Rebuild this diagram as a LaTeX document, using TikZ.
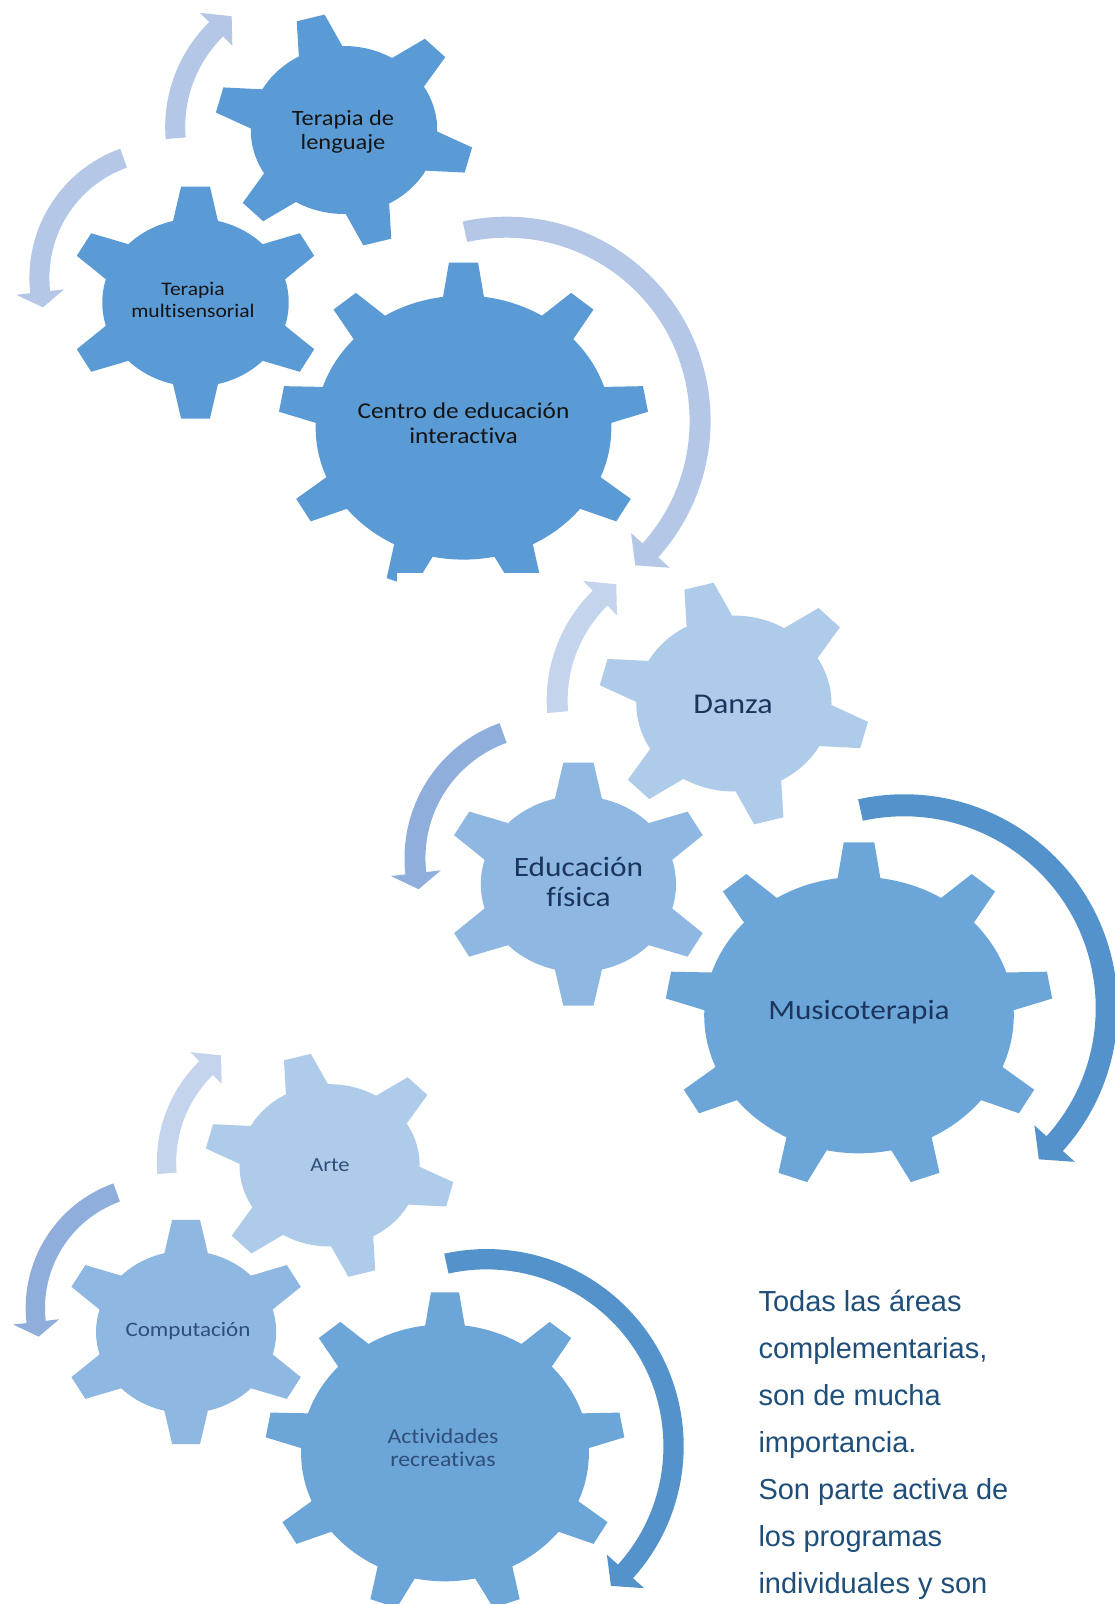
\documentclass[tikz,border=0pt]{standalone}
\usepackage{fontspec}
\usepackage{graphicx}
\setmainfont{Carlito}[Ligatures=NoCommon]
\newfontfamily\arialf{Liberation Sans}

\definecolor{gA}{HTML}{5B9BD5}
\definecolor{arL}{HTML}{B4C7E7}
\definecolor{gLight}{HTML}{AECBEA}
\definecolor{gMid}{HTML}{8EB8E1}
\definecolor{gDark}{HTML}{6CA5D8}
\definecolor{aLight}{HTML}{C3D4EC}
\definecolor{aMid}{HTML}{8FAEDB}
\definecolor{aDark}{HTML}{5492CC}
\definecolor{txtA}{HTML}{141414}
\definecolor{txtB}{HTML}{1B355C}
\definecolor{txtC}{HTML}{2F4E78}
\definecolor{ptxt}{HTML}{1F4E79}

% gear: #1 fill, #2 teeth, #3 tip radius, #4 body radius, #5 rotation, #6 tooth half width at base
\newcommand{\gearshape}[6]{%
  \fill[#1] (0,0) circle[radius=#4];
  \foreach \gi in {1,...,#2}{
    \fill[#1, rotate={#5+360*\gi/#2}] (-13,-#3) -- (13,-#3) -- (#6,{-(#4-6)}) -- (-#6,{-(#4-6)}) -- cycle;
  }}
% circular arrow: #1 fill, #2 mid radius, #3 half band, #4 half head, #5 start, #6 head base, #7 tip (TikZ angles)
\newcommand{\carrow}[7]{%
  \fill[#1] (#5:{#2+#3}) arc[start angle=#5, end angle=#6, radius={#2+#3}]
    -- (#6:{#2+#4}) -- (#7:#2) -- (#6:{#2-#4}) -- (#6:{#2-#3})
    arc[start angle=#6, end angle=#5, radius={#2-#3}] -- cycle;}
\newcommand{\sx}[1]{\scalebox{1.12}[1]{\begin{tabular}{@{}c@{}}#1\end{tabular}}}

\tikzset{
  lbl/.style={inner sep=0pt, align=center},
  ptext/.style={inner sep=0pt, anchor=base west, text=ptxt,
    font=\arialf\fontsize{29}{35}\selectfont}
}

\begin{document}
\begin{tikzpicture}[x=1pt,y=-1pt]
\useasboundingbox (0,0) rectangle (1114,1604);
\fill[white] (0,0) rectangle (1114,1604);

% ---------------- group 1 ----------------
\begin{scope}[shift={(463.5,427.6)}]
  \begin{scope}[xscale=1.12] \gearshape{gA}{9}{165}{132}{0}{19} \end{scope}
  \begin{scope}[shift={(-119.5,-297.6)}, xscale=1.11] \gearshape{gA}{6}{116}{84}{15}{21} \end{scope}
  \begin{scope}[shift={(-268,-125.1)}, xscale=1.11] \gearshape{gA}{6}{116}{84}{0}{21} \end{scope}
  \begin{scope}[shift={(-151.3,-300.6)}] \carrow{arL}{137}{10}{23}{-184.7}{-134.5}{-126} \end{scope}
  \begin{scope}[shift={(-297.1,-149.9)}] \carrow{arL}{127}{10}{24}{-109.7}{-186.5}{-193.5} \end{scope}
  \begin{scope}[shift={(43,-6.8)}] \carrow{arL}{193.6}{10.5}{26}{-102.4}{42}{48.3} \end{scope}
\end{scope}

% white background of the second picture
\fill[white] (397,573) rectangle (1114,1045);

% ---------------- group 2 ----------------
\begin{scope}[shift={(859,1015.1)}, scale=1.047]
  \begin{scope}[xscale=1.12] \gearshape{gDark}{9}{165}{132}{0}{19} \end{scope}
  \begin{scope}[shift={(-119.5,-297.6)}, xscale=1.11] \gearshape{gLight}{6}{116}{84}{15}{21} \end{scope}
  \begin{scope}[shift={(-268,-125.1)}, xscale=1.11] \gearshape{gMid}{6}{116}{84}{0}{21} \end{scope}
  \begin{scope}[shift={(-151.3,-300.6)}] \carrow{aLight}{137}{10}{23}{-184.7}{-134.5}{-126} \end{scope}
  \begin{scope}[shift={(-297.1,-149.9)}] \carrow{aMid}{127}{10}{24}{-109.7}{-186.5}{-193.5} \end{scope}
  \begin{scope}[shift={(43,-6.8)}] \carrow{aDark}{193.6}{10.5}{26}{-102.4}{42}{48.3} \end{scope}
\end{scope}

% ---------------- group 3 ----------------
\begin{scope}[shift={(445,1452.8)}, scale=0.966]
  \begin{scope}[xscale=1.12] \gearshape{gDark}{9}{166}{133}{0}{19} \end{scope}
  \begin{scope}[shift={(-119.5,-297.6)}, xscale=1.11] \gearshape{gLight}{6}{116}{84}{15}{21} \end{scope}
  \begin{scope}[shift={(-268,-125.1)}, xscale=1.11] \gearshape{gMid}{6}{116}{84}{0}{21} \end{scope}
  \begin{scope}[shift={(-151.3,-300.6)}] \carrow{aLight}{137}{10}{23}{-184.7}{-134.5}{-126} \end{scope}
  \begin{scope}[shift={(-297.1,-149.9)}] \carrow{aMid}{127}{10}{24}{-109.7}{-186.5}{-193.5} \end{scope}
  \begin{scope}[shift={(43,-6.8)}] \carrow{aDark}{193.6}{10.5}{26}{-102.4}{42}{48.3} \end{scope}
\end{scope}

% ---------------- labels ----------------
\node[lbl, text=txtA, font=\fontsize{21.8}{24}\selectfont] (lenguaje) at (343,133) {\sx{Terapia de\\lenguaje}};
\node[lbl, text=txtA, font=\fontsize{19.2}{22.7}\selectfont] (multi) at (193,302) {\sx{Terapia\\multisensorial}};
\node[lbl, text=txtA, font=\fontsize{22.6}{24.3}\selectfont] (centro) at (463.5,426) {\sx{Centro de educación\\interactiva}};

\node[lbl, text=txtB, font=\fontsize{28.6}{30}\selectfont] (danza) at (733,707) {\sx{Danza}};
\node[lbl, text=txtB, font=\fontsize{28}{30}\selectfont] (edfis) at (578.5,885) {\sx{Educación\\física}};
\node[lbl, text=txtB, font=\fontsize{27.9}{30}\selectfont] (musico) at (859,1013) {\sx{Musicoterapia}};

\node[lbl, text=txtC, font=\fontsize{20}{23}\selectfont] (arte) at (330,1167) {\sx{Arte}};
\node[lbl, text=txtC, font=\fontsize{20.6}{23}\selectfont] (compu) at (188,1332) {\sx{Computación}};
\node[lbl, text=txtC, font=\fontsize{21.2}{23.3}\selectfont] (activ) at (443,1450) {\sx{Actividades\\recreativas}};

% ---------------- paragraph ----------------
\node[ptext] (p1) at (758.3,1311.7) {Todas las áreas};
\node[ptext] (p2) at (758.3,1358.6) {complementarias,};
\node[ptext] (p3) at (758.3,1405.6) {son de mucha};
\node[ptext] (p4) at (758.3,1452.5) {importancia.};
\node[ptext] (p5) at (758.3,1499.5) {Son parte activa de};
\node[ptext] (p6) at (758.3,1546.4) {los programas};
\node[ptext] (p7) at (758.3,1593.3) {individuales y son};
\end{tikzpicture}
\end{document}
